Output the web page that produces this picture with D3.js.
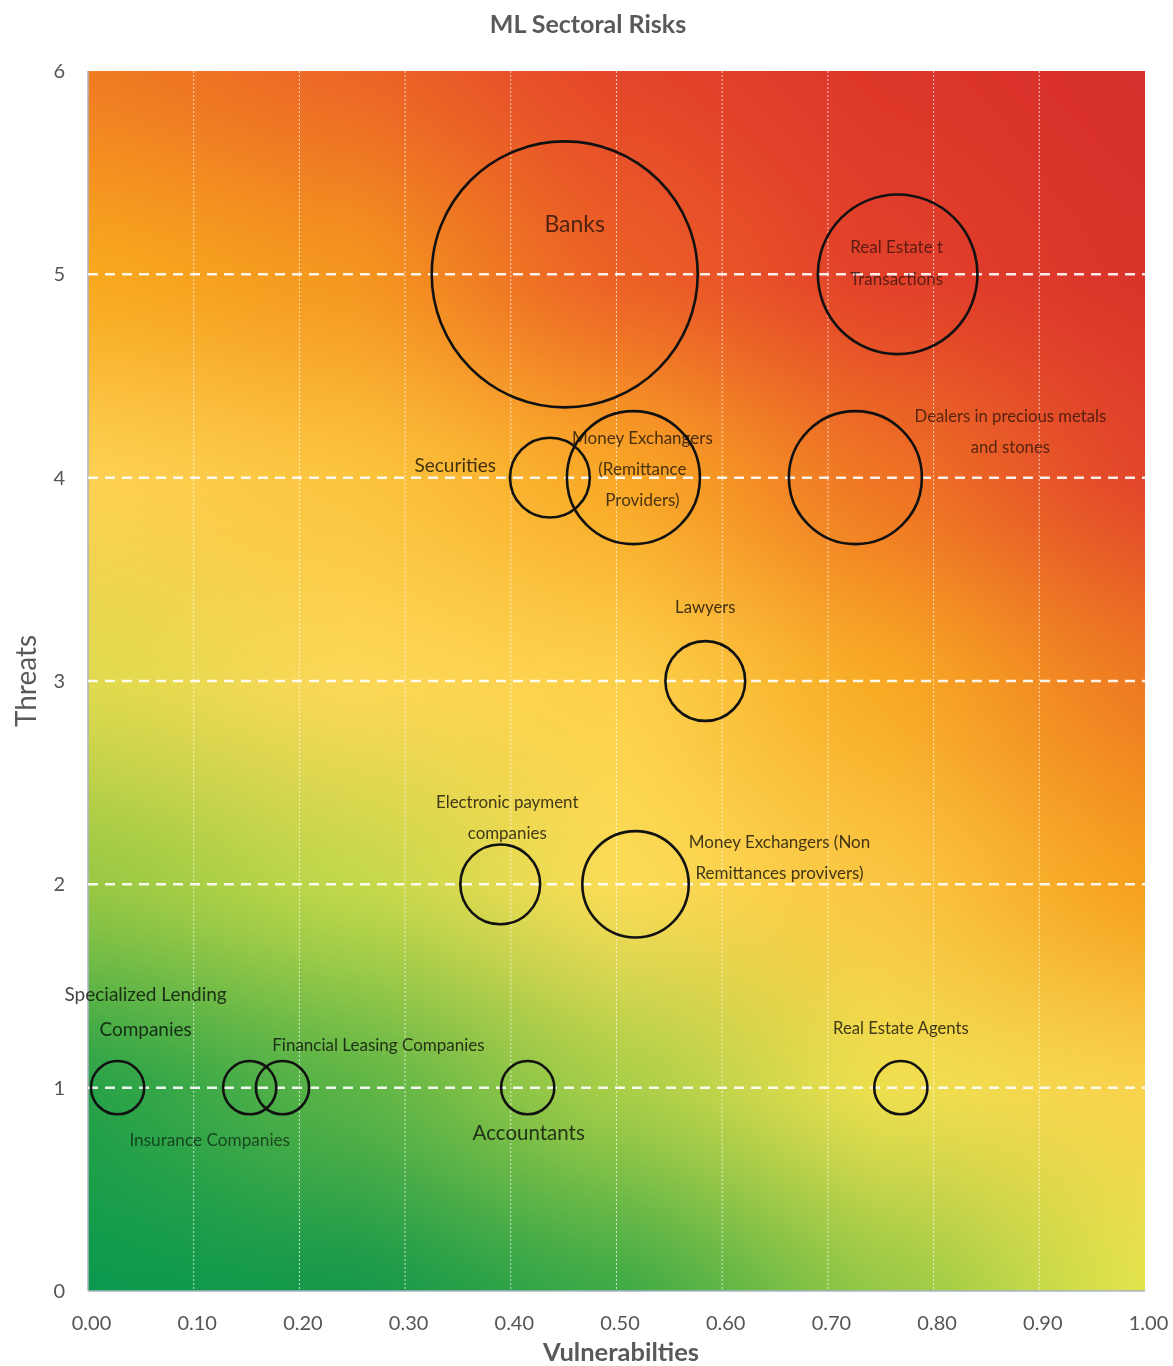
<!DOCTYPE html>
<html>
<head>
<meta charset="utf-8">
<script src="https://cdn.jsdelivr.net/npm/d3@7"></script>
<style>
  html, body { margin: 0; padding: 0; background: #ffffff; }
  svg { display: block; }
</style>
</head>
<body>
<svg id="chart" width="1173" height="1366"></svg>
<script>
// Sector names, vulnerability (x), threat (y) and bubble weight
const sectors = [
  "Banks",
  "Real Estate Transactions",
  "Securities",
  "Money Exchangers (Remittance Providers)",
  "Dealers in precious metals and stones",
  "Lawyers",
  "Electronic payment companies",
  "Money Exchangers (Non Remittances provivers)",
  "Specialized Lending Companies",
  "Insurance Companies",
  "Financial Leasing Companies",
  "Accountants",
  "Real Estate Agents"
];
const vulnerabilities = [0.451, 0.766, 0.437, 0.516, 0.726, 0.584, 0.390, 0.518, 0.028, 0.153, 0.184, 0.416, 0.769];
const threats         = [5, 5, 4, 4, 4, 3, 2, 2, 1, 1, 1, 1, 1];
const weights         = [10, 6, 3, 5, 5, 3, 3, 4, 2, 2, 2, 2, 2];

// Axis ticks
const xTicks = [0, 0.1, 0.2, 0.3, 0.4, 0.5, 0.6, 0.7, 0.8, 0.9, 1.0];
const yTicks = [0, 1, 2, 3, 4, 5, 6];

// Heat-map background: colour anchors on a grid
// columns at vulnerability 0, .25, .5, .75, 1 ; rows at threat 0..6
const heatCols = [0, 0.25, 0.5, 0.75, 1];
const heatRows = [0, 1, 2, 3, 4, 5, 6];
const heatColors = [
  ["#0b994d", "#16984a", "#3eaa46", "#96c846", "#e2e34b"], // 0
  ["#28a248", "#5cb446", "#a8ce48", "#eedf4f", "#f9d24e"], // 1
  ["#98c844", "#c2d84a", "#fbdc57", "#fbc642", "#f6a01e"], // 2
  ["#e0da4e", "#fcd757", "#fdd04a", "#f8aa24", "#ee7a22"], // 3
  ["#fdd052", "#fcc43e", "#f9a826", "#ef7424", "#e2462a"], // 4
  ["#f8a81e", "#f4961f", "#ec6026", "#e2402a", "#da342a"], // 5
  ["#f07c22", "#ec6626", "#e44629", "#dd362a", "#d8302c"]  // 6
];

// Label text lines and placement (offset from bubble centre, in px)
const labelLayout = {
  "Banks": { lines: ["Banks"], dx: 10, dy: [-51], size: 23, anchor: "middle", op: 0.85 },
  "Real Estate Transactions": { lines: ["Real Estate t", "Transactions"], dx: -1, dy: [-28, 4], size: 17, anchor: "middle", op: 0.75 },
  "Securities": { lines: ["Securities"], dx: -54, dy: [-13], size: 19, anchor: "end" },
  "Money Exchangers (Remittance Providers)": { lines: ["Money Exchangers", "(Remittance", "Providers)"], dx: 9, dy: [-40, -9, 22], size: 17, anchor: "middle", op: 0.9 },
  "Dealers in precious metals and stones": { lines: ["Dealers in precious metals", "and stones"], dx: 155, dy: [-62, -31], size: 16.7, anchor: "middle", op: 0.8 },
  "Lawyers": { lines: ["Lawyers"], dx: 0, dy: [-74], size: 16.7, anchor: "middle" },
  "Electronic payment companies": { lines: ["Electronic payment", "companies"], dx: 7, dy: [-83, -52], size: 16.9, anchor: "middle" },
  "Money Exchangers (Non Remittances provivers)": { lines: ["Money Exchangers (Non", "Remittances provivers)"], dx: 144, dy: [-43, -12], size: 17, anchor: "middle" },
  "Specialized Lending Companies": { lines: ["Specialized Lending", "Companies"], dx: 28, dy: [-94, -59], size: 19, anchor: "middle" },
  "Insurance Companies": { lines: ["Insurance Companies"], dx: -40, dy: [52], size: 17.2, anchor: "middle", op: 0.75 },
  "Financial Leasing Companies": { lines: ["Financial Leasing Companies"], dx: 96, dy: [-43], size: 17, anchor: "middle" },
  "Accountants": { lines: ["Accountants"], dx: 1, dy: [44], size: 20.5, anchor: "middle" },
  "Real Estate Agents": { lines: ["Real Estate Agents"], dx: 0, dy: [-60], size: 16.7, anchor: "middle" }
};

const data = sectors.map((name, i) => ({
  name, x: vulnerabilities[i], y: threats[i], w: weights[i]
}));

const svg = d3.select("#chart");
const plot = { left: 88, right: 1145, top: 71, bottom: 1291 };
const plotW = plot.right - plot.left, plotH = plot.bottom - plot.top;

const x = d3.scaleLinear().domain([0, 1]).range([plot.left, plot.right]);
const y = d3.scaleLinear().domain([0, 6]).range([plot.bottom, plot.top]);
const r = d3.scaleLinear().domain([0, 10]).range([0, 133]);

const font = "Lato, 'Open Sans', 'DejaVu Sans', sans-serif";

// Paint the heat-map by interpolating the colour grid (bilinear in RGB)
(function paintBackground() {
  const canvas = document.createElement("canvas");
  canvas.width = plotW; canvas.height = plotH;
  const ctx = canvas.getContext("2d");
  const img = ctx.createImageData(plotW, plotH);
  const grid = heatColors.map(row => row.map(c => { const o = d3.rgb(c); return [o.r, o.g, o.b]; }));
  const smooth = t => t * t * (3 - 2 * t) * 0.35 + t * 0.65;
  for (let py = 0; py < plotH; py++) {
    const tv = y.invert(plot.top + py + 0.5);
    let j = Math.min(heatRows.length - 2, Math.max(0, Math.floor(tv)));
    const fy = smooth(Math.min(1, Math.max(0, tv - heatRows[j])));
    for (let px = 0; px < plotW; px++) {
      const vv = x.invert(plot.left + px + 0.5);
      let i = Math.min(heatCols.length - 2, Math.max(0, Math.floor(vv / 0.25)));
      const fx = smooth(Math.min(1, Math.max(0, (vv - heatCols[i]) / 0.25)));
      const a = grid[j][i], b = grid[j][i + 1], c = grid[j + 1][i], d = grid[j + 1][i + 1];
      const k = (py * plotW + px) * 4;
      for (let ch = 0; ch < 3; ch++) {
        const lo = a[ch] + (b[ch] - a[ch]) * fx;
        const hi = c[ch] + (d[ch] - c[ch]) * fx;
        img.data[k + ch] = lo + (hi - lo) * fy;
      }
      img.data[k + 3] = 255;
    }
  }
  ctx.putImageData(img, 0, 0);
  svg.append("image")
    .attr("x", plot.left).attr("y", plot.top)
    .attr("width", plotW).attr("height", plotH)
    .attr("preserveAspectRatio", "none")
    .attr("href", canvas.toDataURL("image/png"));
})();

// Thin left and bottom edges
svg.append("line")
  .attr("x1", plot.left).attr("x2", plot.left)
  .attr("y1", plot.top).attr("y2", plot.bottom)
  .attr("stroke", "#a9b4c6").attr("stroke-width", 1.5);
svg.append("line")
  .attr("x1", plot.left).attr("x2", plot.right)
  .attr("y1", plot.bottom).attr("y2", plot.bottom)
  .attr("stroke", "#a9b4c6").attr("stroke-width", 1.5);

// Vertical dotted gridlines
svg.append("g")
  .selectAll("line")
  .data(xTicks.filter(t => t > 0 && t < 1))
  .join("line")
  .attr("x1", d => x(d)).attr("x2", d => x(d))
  .attr("y1", plot.top).attr("y2", plot.bottom)
  .attr("stroke", "#ffffff").attr("stroke-opacity", 0.7)
  .attr("stroke-width", 1).attr("stroke-dasharray", "2,2");

// Horizontal dashed gridlines
svg.append("g")
  .selectAll("line")
  .data(yTicks.filter(t => t > 0 && t < 6))
  .join("line")
  .attr("x1", plot.left).attr("x2", plot.right)
  .attr("y1", d => y(d)).attr("y2", d => y(d))
  .attr("stroke", "#ffffff").attr("stroke-opacity", 0.9)
  .attr("stroke-width", 2.5).attr("stroke-dasharray", "10,7");

// Bubbles
svg.append("g")
  .selectAll("circle")
  .data(data)
  .join("circle")
  .attr("cx", d => x(d.x))
  .attr("cy", d => y(d.y))
  .attr("r", d => r(d.w))
  .attr("fill", "none")
  .attr("stroke", "#111111")
  .attr("stroke-width", 2.6);

// Sector labels
const labels = svg.append("g")
  .attr("font-family", font)
  .style("mix-blend-mode", "multiply");
data.forEach(d => {
  const L = labelLayout[d.name];
  L.lines.forEach((line, j) => {
    labels.append("text")
      .attr("x", x(d.x) + L.dx)
      .attr("y", y(d.y) + L.dy[j])
      .attr("dominant-baseline", "central")
      .attr("text-anchor", L.anchor)
      .attr("font-size", L.size)
      .attr("fill", "#3a3a3a")
      .attr("fill-opacity", L.op || 0.95)
      .text(line);
  });
});

// Axes
const xAxis = svg.append("g")
  .attr("transform", `translate(0,${plot.bottom})`)
  .call(d3.axisBottom(x).tickValues(xTicks).tickFormat(d3.format(".2f")).tickSize(0).tickPadding(25));
xAxis.select(".domain").remove();
xAxis.selectAll("text")
  .attr("font-family", font).attr("font-size", 20).attr("fill", "#555555")
  .attr("dx", 3);

const yAxis = svg.append("g")
  .attr("transform", `translate(${plot.left},0)`)
  .call(d3.axisLeft(y).tickValues(yTicks).tickFormat(d3.format("d")).tickSize(0).tickPadding(23));
yAxis.select(".domain").remove();
yAxis.selectAll("text")
  .attr("font-family", font).attr("font-size", 20).attr("fill", "#555555");

// Titles
svg.append("text")
  .attr("x", 588).attr("y", 23)
  .attr("text-anchor", "middle").attr("dominant-baseline", "central")
  .attr("font-family", font).attr("font-size", 25).attr("font-weight", "bold")
  .attr("fill", "#595959")
  .text("ML Sectoral Risks");

svg.append("text")
  .attr("x", 621).attr("y", 1351)
  .attr("text-anchor", "middle").attr("dominant-baseline", "central")
  .attr("font-family", font).attr("font-size", 25.5).attr("font-weight", "bold")
  .attr("fill", "#595959")
  .text("Vulnerabilties");

svg.append("text")
  .attr("transform", "translate(25,681) rotate(-90)")
  .attr("text-anchor", "middle").attr("dominant-baseline", "central")
  .attr("font-family", font).attr("font-size", 28)
  .attr("fill", "#595959")
  .text("Threats");
</script>
</body>
</html>
